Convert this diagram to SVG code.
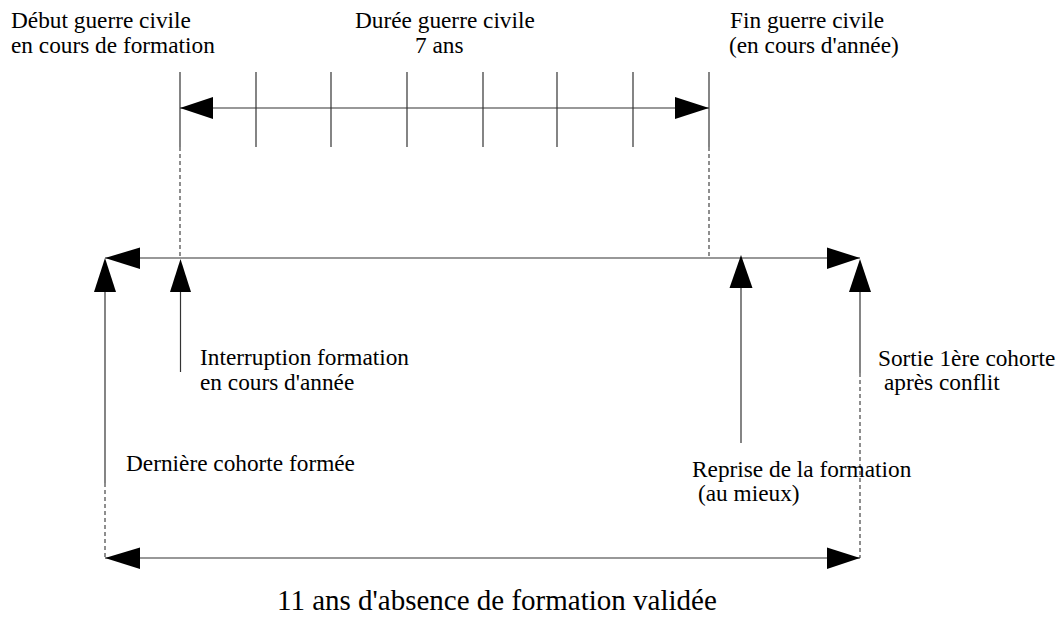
<svg xmlns="http://www.w3.org/2000/svg" width="1060" height="623" viewBox="0 0 1060 623">
<style>
text{font-family:'Liberation Serif','Times New Roman',serif;font-size:23.3px;fill:#000}
text.big{font-size:29px}
.ln{stroke:#333;stroke-width:1.2;fill:none}
.dash{stroke:#444;stroke-width:1.2;fill:none;stroke-dasharray:4 3}
.ah{fill:#000;stroke:none}
</style>
<rect width="1060" height="623" fill="#fff"/>
<g id="connectors">
  <line class="ln" x1="180" y1="108" x2="709" y2="108"/>
  <line class="ln" x1="180" y1="72" x2="180" y2="147"/>
  <line class="ln" x1="256" y1="72" x2="256" y2="147"/>
  <line class="ln" x1="331" y1="72" x2="331" y2="147"/>
  <line class="ln" x1="407" y1="72" x2="407" y2="147"/>
  <line class="ln" x1="483" y1="72" x2="483" y2="147"/>
  <line class="ln" x1="557" y1="72" x2="557" y2="147"/>
  <line class="ln" x1="633" y1="72" x2="633" y2="147"/>
  <line class="ln" x1="709" y1="72" x2="709" y2="147"/>
  <polygon class="ah" points="180,108 213,97 213,119"/>
  <polygon class="ah" points="709,108 675,97 675,119"/>
  <line class="dash" x1="180" y1="147" x2="180" y2="258"/>
  <line class="dash" x1="709" y1="147" x2="709" y2="258"/>
  <line class="ln" x1="105" y1="258" x2="860" y2="258"/>
  <polygon class="ah" points="105,258 140,247.5 140,269"/>
  <polygon class="ah" points="860,258 827,247.5 827,269"/>
  <line class="ln" x1="105" y1="270" x2="105" y2="483"/>
  <line class="dash" x1="105" y1="483" x2="105" y2="558"/>
  <polygon class="ah" points="105,258 94,292 116,292"/>
  <line class="ln" x1="180.5" y1="270" x2="180.5" y2="372"/>
  <polygon class="ah" points="180.5,259 170,292 191,292"/>
  <line class="ln" x1="741" y1="270" x2="741" y2="443"/>
  <polygon class="ah" points="741,255 729.5,288 752.5,288"/>
  <line class="ln" x1="860" y1="270" x2="860" y2="373"/>
  <line class="dash" x1="860" y1="373" x2="860" y2="558"/>
  <polygon class="ah" points="860,259 849,292 871,292"/>
  <line class="ln" x1="105" y1="558" x2="860" y2="558"/>
  <polygon class="ah" points="105,558 140,547.5 140,569"/>
  <polygon class="ah" points="860,558 827,547.5 827,569"/>
</g>
<g font-family="'Liberation Serif', 'Times New Roman', serif">
<g id="debut-guerre"><text x="11" y="28">Début guerre civile</text><text x="11" y="53">en cours de formation</text></g>
<g id="duree-guerre"><text x="355" y="28">Durée guerre civile</text><text x="415" y="53">7 ans</text></g>
<g id="fin-guerre"><text x="730" y="28">Fin guerre civile</text><text x="729" y="53">(en cours d'année)</text></g>
<g id="interruption"><text x="200" y="365">Interruption formation</text><text x="200" y="390">en cours d'année</text></g>
<g id="sortie"><text x="878" y="366">Sortie 1ère cohorte</text><text x="884" y="390">après conflit</text></g>
<g id="derniere"><text x="126" y="471">Dernière cohorte formée</text></g>
<g id="reprise"><text x="692" y="477">Reprise de la formation</text><text x="698" y="501">(au mieux)</text></g>
<g id="absence"><text class="big" x="277" y="610">11 ans d'absence de formation validée</text></g>
</g>
</svg>
